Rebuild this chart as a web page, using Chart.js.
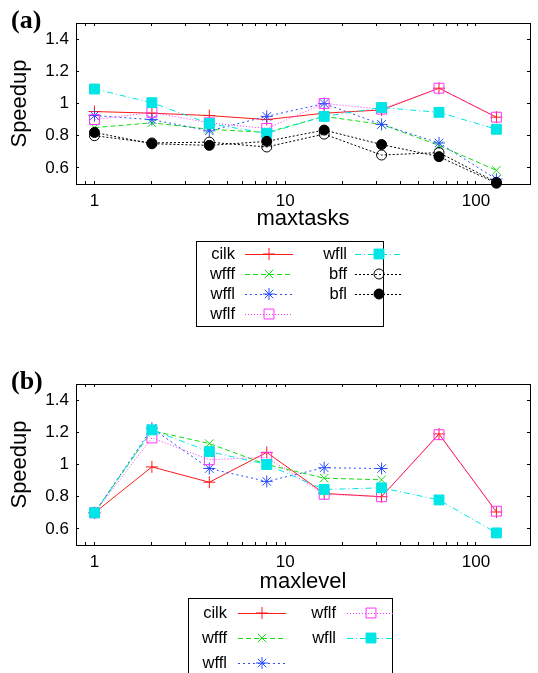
<!DOCTYPE html>
<html>
<head>
<meta charset="utf-8">
<script src="https://cdn.jsdelivr.net/npm/chart.js@4/dist/chart.umd.min.js"></script>
<style>
	body { margin: 0; background: #fff; }
	#wrap { position: relative; width: 538px; height: 673px; overflow: hidden; }
	canvas { position: absolute; left: 0; }
	.tag { position: absolute; left: 11px; font: bold 26px "Liberation Serif", "Times New Roman", serif; line-height: 1; }
</style>
</head>
<body>
<div id="wrap">
	<canvas id="canvasA" width="538" height="338" style="top:0px"></canvas>
	<canvas id="canvasB" width="538" height="335" style="top:338px"></canvas>
	<div class="tag" style="top:7px">(a)</div>
	<div class="tag" style="top:368px">(b)</div>
</div>
<script>
// x positions shared by both panels
const xValues = [1, 2, 4, 8, 16, 32, 64, 128];
const xTickLabels = [1, 10, 100];
const yTicks = [0.6, 0.8, 1.0, 1.2, 1.4];

// panel (a): speedup vs maxtasks
const cilkA = [0.95, 0.94, 0.925, 0.90, 0.94, 0.96, 1.095, 0.915];
const wfffA = [0.85, 0.88, 0.84, 0.82, 0.92, 0.87, 0.74, 0.585];
const wfflA = [0.925, 0.90, 0.83, 0.92, 1.0, 0.87, 0.755, 0.53];
const wflfA = [0.90, 0.945, 0.88, 0.845, 1.0, 0.965, 1.095, 0.915];
const wfllA = [1.09, 1.005, 0.875, 0.815, 0.92, 0.975, 0.945, 0.84];
const bffA = [0.80, 0.755, 0.76, 0.73, 0.81, 0.68, 0.695, 0.51];
const bflA = [0.82, 0.75, 0.74, 0.765, 0.835, 0.745, 0.67, 0.505];

// panel (b): speedup vs maxlevel
const cilkB = [0.70, 0.985, 0.89, 1.075, 0.82, 0.80, 1.19, 0.705];
const wfffB = [0.70, 1.21, 1.13, 1.0, 0.915, 0.905];
const wfflB = [0.70, 1.225, 0.975, 0.895, 0.98, 0.975];
const wflfB = [0.70, 1.165, 1.03, 1.045, 0.815, 0.80, 1.185, 0.71];
const wfllB = [0.70, 1.215, 1.08, 1.0, 0.845, 0.855, 0.78, 0.575];

const styles = {
	cilk: { color: '#ff1a1a', dash: [], point: 'cross', radius: 6, filled: false },
	wfff: { color: '#11dd11', dash: [5, 3], point: 'crossRot', radius: 6, filled: false },
	wffl: { color: '#2a4dff', dash: [2, 3], point: 'star', radius: 6, filled: false },
	wflf: { color: '#ff33ff', dash: [1, 2], point: 'rect', radius: 7, filled: false },
	wfll: { color: '#00e5e5', dash: [6, 3, 1, 3], point: 'rect', radius: 7, filled: true },
	bff: { color: '#000000', dash: [2, 2], point: 'circle', radius: 5, filled: false },
	bfl: { color: '#000000', dash: [2, 2], point: 'circle', radius: 5, filled: true }
};

Chart.defaults.font.family = '"Liberation Sans", Arial, Helvetica, sans-serif';
Chart.defaults.color = '#000';

function makeSet(name, values, idx, total) {
	const s = styles[name];
	return {
		label: name,
		data: values.map((v, i) => ({ x: xValues[i], y: v })),
		borderColor: s.color,
		borderWidth: 1,
		borderDash: s.dash,
		pointStyle: s.point,
		pointRadius: s.radius,
		pointBorderWidth: 1,
		pointBorderColor: s.color,
		pointBackgroundColor: s.filled ? s.color : 'rgba(0,0,0,0)',
		fill: false,
		tension: 0,
		clip: false,
		order: total - idx
	};
}

function logTicks(scale) {
	const t = [];
	[0.1, 1, 10, 100].forEach(d => {
		for (let m = 1; m <= 9; m++) {
			const v = d * m;
			if (v > 0.81 && v < 190) t.push({ value: v, major: m === 1 });
		}
	});
	scale.ticks = t;
}

function yTickList(scale) {
	scale.ticks = yTicks.map(v => ({ value: v }));
}

// gnuplot-like key: label on the left, line sample with marker on the right
const keyPlugin = {
	id: 'keyBox',
	afterDraw(chart, args, o) {
		const ctx = chart.ctx;
		ctx.save();
		ctx.strokeStyle = '#000';
		ctx.lineWidth = 1;
		ctx.strokeRect(o.left + 0.5, o.top + 0.5, o.width, o.height);
		ctx.font = '16.5px "Liberation Sans", Arial, sans-serif';
		ctx.textAlign = 'right';
		ctx.textBaseline = 'middle';
		chart.data.datasets.forEach((ds, i) => {
			const col = Math.floor(i / o.rows);
			const row = i % o.rows;
			const y = o.firstRow + row * o.rowGap;
			const tx = o.textRight[col];
			const sx = o.sampleLeft[col];
			ctx.fillStyle = '#000';
			ctx.fillText(ds.label, tx, y);
			ctx.strokeStyle = ds.borderColor;
			ctx.lineWidth = 1;
			ctx.setLineDash(ds.borderDash);
			ctx.beginPath();
			ctx.moveTo(sx, Math.round(y) + 0.5);
			ctx.lineTo(sx + o.sample, Math.round(y) + 0.5);
			ctx.stroke();
			ctx.setLineDash([]);
			ctx.fillStyle = ds.pointBackgroundColor;
			Chart.helpers.drawPoint(ctx, { pointStyle: ds.pointStyle, radius: ds.pointRadius, borderWidth: 1, rotation: 0 }, sx + o.sample / 2, y);
		});
		ctx.restore();
	}
};

function drawPanel(id, sets, xTitle, geo, key) {
	const ctx = document.getElementById(id);
	const xMin = 0.8, xMax = 192, yMin = 0.5, yMax = 1.5;
	const grid = { drawOnChartArea: false, drawTicks: true, tickLength: -3, color: '#000', lineWidth: 1 };
	const border = { display: true, color: '#000', width: 1 };
	new Chart(ctx, {
		type: 'line',
		data: { datasets: sets },
		options: {
			responsive: false,
			animation: false,
			events: [],
			layout: { padding: { left: 0, right: 3, top: geo.top, bottom: geo.bottom } },
			plugins: {
				legend: { display: false },
				tooltip: { enabled: false },
				keyBox: key
			},
			scales: {
				x: {
					type: 'logarithmic', position: 'bottom', min: xMin, max: xMax,
					afterBuildTicks: logTicks,
					afterFit: s => { s.height = geo.xHeight; },
					grid: grid, border: border,
					ticks: {
						autoSkip: false, maxRotation: 0, padding: 10,
						font: { size: 17 },
						callback: v => xTickLabels.includes(v) ? String(v) : ''
					},
					title: { display: true, text: xTitle, font: { size: 22 }, padding: { top: 0, bottom: 0 } }
				},
				x2: {
					type: 'logarithmic', position: 'top', min: xMin, max: xMax,
					afterBuildTicks: logTicks,
					afterFit: s => { s.height = 0; },
					grid: grid, border: border,
					ticks: { display: false }
				},
				y: {
					type: 'linear', position: 'left', min: yMin, max: yMax,
					afterBuildTicks: yTickList,
					afterFit: s => { s.width = 76; },
					grid: grid, border: border,
					ticks: {
						padding: 10,
						font: { size: 17 },
						callback: v => String(+v.toFixed(1))
					},
					title: { display: true, text: 'Speedup', font: { size: 22 }, padding: { top: 7, bottom: 0 } }
				},
				y2: {
					type: 'linear', position: 'right', min: yMin, max: yMax,
					afterBuildTicks: yTickList,
					afterFit: s => { s.width = 0; },
					grid: grid, border: border,
					ticks: { display: false }
				}
			}
		},
		plugins: [keyPlugin]
	});
}

const namesA = ['cilk', 'wfff', 'wffl', 'wflf', 'wfll', 'bff', 'bfl'];
const valuesA = [cilkA, wfffA, wfflA, wflfA, wfllA, bffA, bflA];
drawPanel('canvasA',
	namesA.map((n, i) => makeSet(n, valuesA[i], i, namesA.length)),
	'maxtasks',
	{ top: 23, bottom: 106, xHeight: 48 },
	{ left: 196, top: 241, width: 187, height: 85, rows: 4, firstRow: 254, rowGap: 20,
		textRight: [235, 347], sampleLeft: [245, 355], sample: 48 });

const namesB = ['cilk', 'wfff', 'wffl', 'wflf', 'wfll'];
const valuesB = [cilkB, wfffB, wfflB, wflfB, wfllB];
drawPanel('canvasB',
	namesB.map((n, i) => makeSet(n, valuesB[i], i, namesB.length)),
	'maxlevel',
	{ top: 46, bottom: 78, xHeight: 50 },
	{ left: 188, top: 260, width: 204, height: 100, rows: 3, firstRow: 275, rowGap: 25,
		textRight: [227, 336], sampleLeft: [238, 347], sample: 48 });
</script>
</body>
</html>
